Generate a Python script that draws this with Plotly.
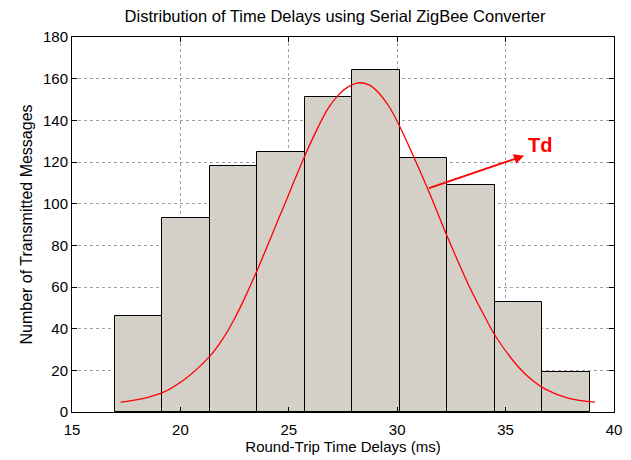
import plotly.graph_objects as go

# histogram of round-trip delays (ms)
bin_start = 16.97
bin_width = 2.19
counts = [46, 93, 118, 125, 151, 164, 122, 109, 53, 19]

# fitted distribution curve
curve_x = [17.24, 18.2, 19.17, 20.17, 21.36, 22.0, 22.48, 23.0, 23.6, 24.64, 25.72, 26.34,
           26.8, 27.27, 27.7, 28.19, 28.7, 29.12, 29.6, 30.05, 30.74, 31.43, 32.36, 32.9,
           33.29, 33.9, 34.56, 35.6, 36.2, 36.83, 37.92, 39.12]
curve_y = [4.7, 6.3, 9.3, 15.5, 26.8, 35.8, 44.5, 55.5, 69.5, 95.5, 122.5, 136.5,
           145.5, 152.0, 155.8, 158.0, 157.0, 153.5, 147.0, 138.5, 123.0, 106.5, 83.0, 70.0,
           61.0, 48.5, 36.0, 21.5, 15.5, 11.0, 6.5, 4.7]

x_ticks = [15, 20, 25, 30, 35, 40]
y_ticks = [0, 20, 40, 60, 80, 100, 120, 140, 160, 180]

centers = [bin_start + bin_width * (i + 0.5) for i in range(len(counts))]

font = "Liberation Sans, Arial, sans-serif"

fig = go.Figure()
fig.add_trace(go.Bar(x=centers, y=counts, width=bin_width,
                     marker=dict(color="#d4d0c8", line=dict(color="black", width=1)),
                     showlegend=False))
fig.add_trace(go.Scatter(x=curve_x, y=curve_y, mode="lines",
                         line=dict(color="red", width=1.3, shape="spline", smoothing=1.0),
                         showlegend=False))

# arrow pointing at the curve
fig.add_annotation(x=35.85, y=123, ax=31.4, ay=107.2, xref="x", yref="y",
                   axref="x", ayref="y", text="", showarrow=True,
                   arrowhead=2, arrowsize=1, arrowwidth=2, arrowcolor="red")
fig.add_annotation(x=36.6, y=128, xref="x", yref="y", text="<b>Td</b>",
                   showarrow=False, font=dict(color="red", size=20, family=font))

axis_common = dict(showline=True, linecolor="black", linewidth=1, mirror="ticks",
                   ticks="inside", ticklen=5, tickcolor="black", automargin=False,
                   showgrid=True, gridcolor="#a0a0a0", gridwidth=1, griddash="dot",
                   zeroline=False, tickfont=dict(size=15, color="black", family=font))

# page body adds an 8px margin, so the figure is 8px smaller than the window
fig.update_layout(
    width=623, height=452,
    margin=dict(l=64, r=17, t=29, b=48),
    paper_bgcolor="white", plot_bgcolor="white",
    font=dict(family=font, color="black"),
    title=dict(text="Distribution of Time Delays using Serial ZigBee Converter",
               x=0.525, xanchor="center", y=0.981, yanchor="middle",
               font=dict(size=16.5, color="black", family=font)),
    bargap=0,
    xaxis=dict(range=[15, 40], tickvals=x_ticks, ticklabelstandoff=4,
               title=dict(text="Round-Trip Time Delays (ms)", standoff=4,
                          font=dict(size=15, family=font)), **axis_common),
    yaxis=dict(range=[0, 180], tickvals=y_ticks,
               title=dict(text="Number of Transmitted Messages", standoff=6,
                          font=dict(size=16, family=font)), **axis_common),
)

fig.write_html("out.html")
